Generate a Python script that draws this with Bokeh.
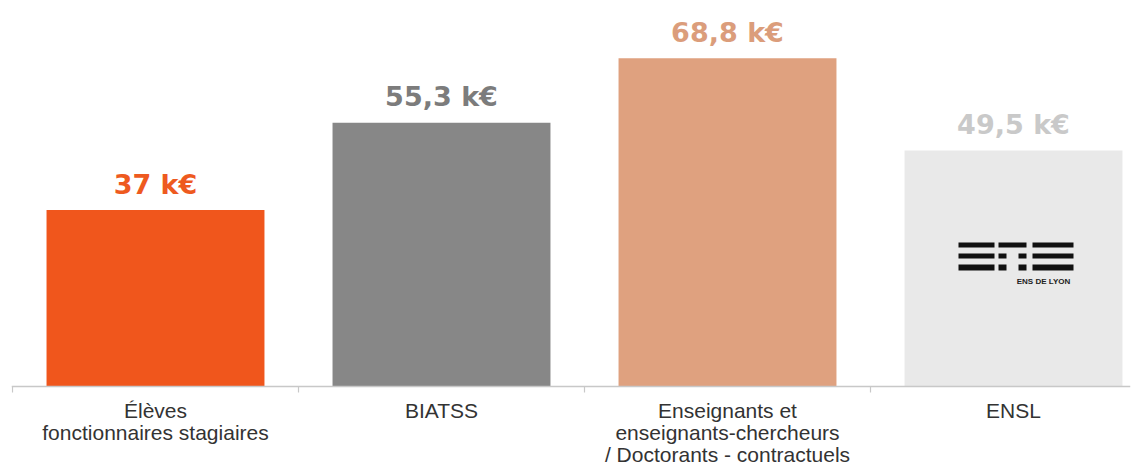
from bokeh.plotting import figure
from bokeh.models import Range1d, ColumnDataSource, Span
from bokeh.core.properties import value
from bokeh.embed import file_html
from bokeh.resources import INLINE

categories = ["Élèves\nfonctionnaires stagiaires", "BIATSS",
              "Enseignants et\nenseignants-chercheurs\n/ Doctorants - contractuels", "ENSL"]
values = [37, 55.3, 68.8, 49.5]
value_labels = ["37 k€", "55,3 k€", "68,8 k€", "49,5 k€"]
bar_colors = ["#F0561C", "#878787", "#DFA17F", "#E9E9E9"]
text_colors = ["#EE5A1F", "#7C7C7C", "#DB9D7B", "#C9C9C9"]

xs = list(range(len(categories)))
src = ColumnDataSource(dict(x=xs, top=values, lab=value_labels, bc=bar_colors, tc=text_colors,
                            cat=categories, zero=[0] * len(xs)))

W, H = 1144, 465
frame_w = 1119
BL, BT = 11, 8
BASE = 386            # pixel row of the value axis (y = 0)
PXX, PXY = 286.0, 4.77
p = figure(width=W, height=H, output_backend="svg", toolbar_location=None,
           x_range=Range1d(-144 / PXX, (frame_w - 144) / PXX),
           y_range=Range1d(-(H - BASE) / PXY, (BASE - BT) / PXY),
           min_border_left=BL, min_border_right=W - BL - frame_w,
           min_border_top=BT, min_border_bottom=0)
p.outline_line_color = None
p.xgrid.visible = False
p.ygrid.visible = False
p.xaxis.visible = False
p.yaxis.visible = False
p.background_fill_color = "white"
p.border_fill_color = "white"

p.vbar(x="x", top="top", bottom=0, width=0.762, fill_color="bc", line_color=None, source=src)
p.text(x="x", y="top", text="lab", text_color="tc", text_align="center",
       text_baseline="alphabetic", y_offset=-26, text_font=value("DejaVu Sans"),
       text_font_style="bold", text_font_size="27px", source=src)

# category axis: base line, separator ticks, labels
p.add_layout(Span(location=0, dimension="width", line_color="#C8C8C8", line_width=1.5))
bounds = [x - 0.5 for x in xs] + [xs[-1] + 0.5]
p.segment(x0=bounds, y0=[0] * len(bounds), x1=bounds, y1=[-6 / PXY] * len(bounds),
          line_color="#C8C8C8", line_width=1.2)
p.text(x="x", y="zero", text="cat", text_align="center", text_baseline="top",
       y_offset=12, text_line_height=0.97, text_font=value("Liberation Sans"),
       text_font_size="21px", text_color="#333333", source=src)

# ENS de Lyon logo on the last bar (decoration)
lx = xs[3]
u = 1 / PXX
def yv(py):
    return (BASE - py) / PXY
rows = [(242, 247), (253, 258), (264, 270)]
row_segs = [
    [(-55, -19), (-15, 13), (19, 60)],
    [(-55, -19), (-15, -7), (5, 13), (19, 60)],
    [(-55, -19), (-15, -7), (5, 13), (19, 60)],
]
left, right, top, bottom = [], [], [], []
for (t, bt), segs in zip(rows, row_segs):
    for a, b in segs:
        left.append(lx + a * u); right.append(lx + b * u)
        top.append(yv(t)); bottom.append(yv(bt))
p.quad(left=left, right=right, top=top, bottom=bottom, fill_color="#111111", line_color=None)
p.text(x=[lx + 30 * u], y=[yv(281)], text=["ENS DE LYON"], text_font=value("Liberation Sans"),
       text_font_size="8px", text_font_style="bold", text_align="center",
       text_baseline="middle", text_color="#222222")

open("out.html", "w").write(file_html(p, INLINE))
